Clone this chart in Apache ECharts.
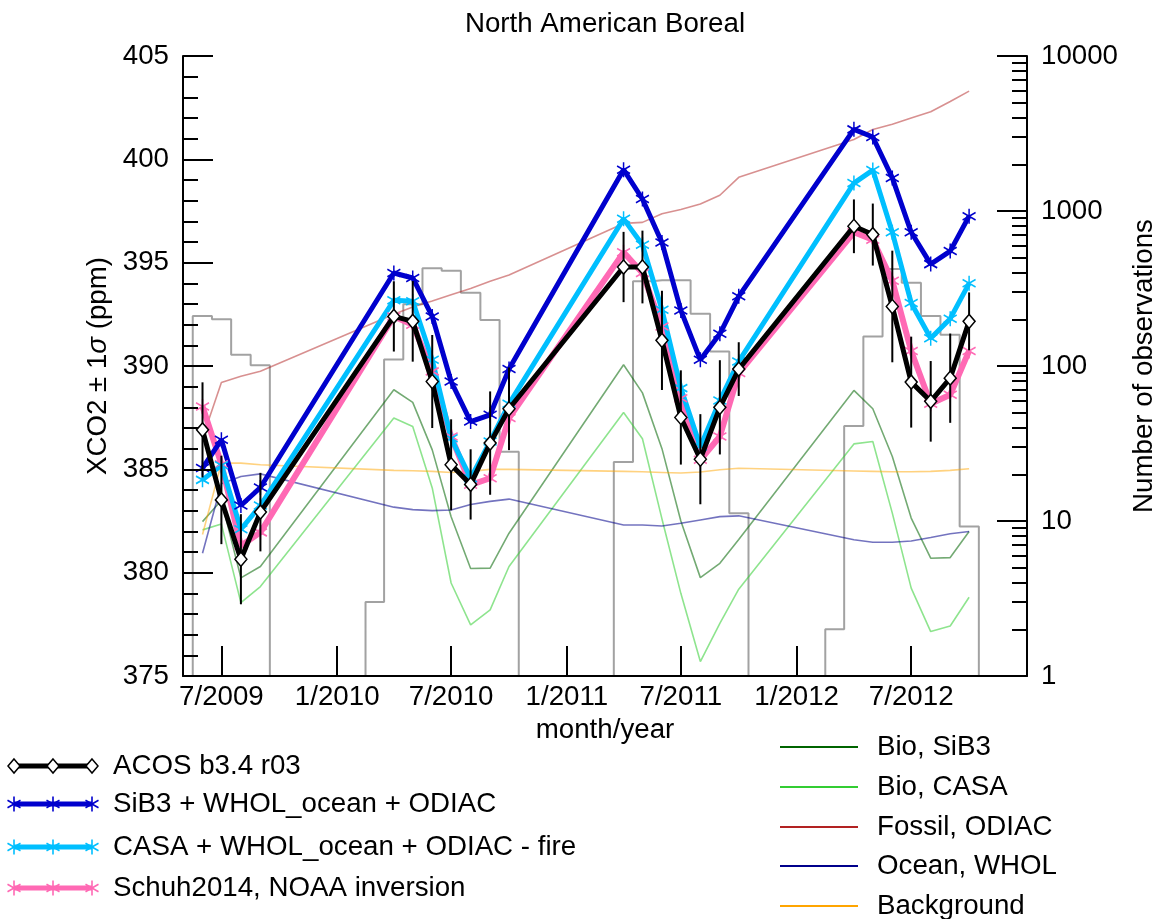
<!DOCTYPE html>
<html><head><meta charset="utf-8">
<script src="https://cdn.jsdelivr.net/npm/echarts@6/dist/echarts.min.js"></script>
<style>html,body{margin:0;padding:0;background:#fff}#c{width:1159px;height:919px}</style>
</head><body><div id="c"></div>
<script>
// ---- data ----
const months = ['2009-06','2009-07','2009-08','2009-09',
  '2010-04','2010-05','2010-06','2010-07','2010-08','2010-09','2010-10',
  '2011-04','2011-05','2011-06','2011-07','2011-08','2011-09','2011-10',
  '2012-04','2012-05','2012-06','2012-07','2012-08','2012-09','2012-10'];
const acos      = [386.91,383.52,380.65,382.93, 392.40,392.16,389.25,385.22,384.27,386.27,387.93, 394.79,394.79,391.24,387.51,385.49,388.00,389.85, 396.76,396.36,392.88,389.22,388.29,389.41,392.16];
const acosSigma = [2.3,2.14,2.18,1.9, 1.7,1.95,2.25,2.2,1.7,2.5,2.0, 1.7,1.76,2.4,2.28,2.18,2.28,1.3, 1.3,1.5,2.7,2.2,1.95,2.16,1.4];
const sib3Model = [385.06,386.43,383.25,384.12, 394.5,394.26,392.4,389.25,387.31,387.64,389.85, 399.5,398.08,395.98,392.69,390.3,391.56,393.37, 401.45,401.08,399.1,396.47,394.93,395.56,397.25];
const casaModel = [384.49,385.2,382.1,383.25, 393.18,393.13,390.3,386.5,384.57,386.35,388.17, 397.12,395.87,392.72,388.93,386.1,388.33,390.22, 398.85,399.48,396.47,393.05,391.34,392.29,394.0];
const schuh2014 = [388.04,385.25,381.3,381.95, 392.4,392.0,389.74,386.59,384.25,384.57,387.48, 395.5,394.5,391.91,388.44,385.46,386.59,389.66, 396.47,396.11,394.12,390.73,388.17,388.61,390.73];
const bioSib3   = [382.47,383.5,379.75,380.3, 388.85,388.24,385.94,382.71,380.2,380.22,381.91, 390.06,388.7,386.0,382.5,379.76,380.45,381.6, 388.82,387.93,385.62,382.64,380.7,380.73,381.99];
const bioCasa   = [382.07,382.35,378.55,379.33, 387.48,387.07,384.1,379.5,377.47,378.2,380.3, 387.75,386.48,382.6,379.0,375.7,377.55,379.2, 386.23,386.35,382.88,379.25,377.15,377.42,378.81];
const fossil    = [386.5,389.2,389.5,389.75, 392.5,392.85,393.15,393.45,393.75,394.1,394.4, 396.9,396.95,397.37,397.57,397.84,398.26,399.13, 400.96,401.44,401.7,402.0,402.3,402.8,403.3];
const ocean     = [380.94,384.3,384.65,384.78, 383.17,383.05,383.0,383.03,383.3,383.45,383.56, 382.31,382.31,382.26,382.39,382.55,382.71,382.75, 381.59,381.47,381.47,381.53,381.7,381.88,381.99];
const background= [381.85,385.3,385.3,385.22, 384.95,384.93,384.9,384.85,384.9,385.0,385.0, 384.9,384.88,384.85,384.82,384.87,384.98,385.05, 384.92,384.9,384.88,384.88,384.9,384.95,385.03];
// number of observations per month (1 = none, the bottom of the log axis)
const histMonths = ['2009-05','2009-06','2009-07','2009-08','2009-09','2009-10',
  '2010-02','2010-03','2010-04','2010-05','2010-06','2010-07','2010-08','2010-09','2010-10','2010-11',
  '2011-03','2011-04','2011-05','2011-06','2011-07','2011-08','2011-09','2011-10','2011-11',
  '2012-02','2012-03','2012-04','2012-05','2012-06','2012-07','2012-08','2012-09','2012-10','2012-11'];
const histCounts = [1,210,200,118,101,1,
  1,3,110,250,427,412,297,198,28,1,
  1,24,352,358,358,217,124,11.2,1,
  1,2,41,155,423,345,210,159,9.2,1];
const xTickMonths = ['2009-07','2010-01','2010-07','2011-01','2011-07','2012-01','2012-07'];
const chartTitle = 'North American Boreal';

// ---- helpers ----
const T = s => { const p = s.split('-').map(Number); return Date.UTC(p[0], p[1]-1, 1); };
const pairs = vals => months.map((m,i) => [T(m), vals[i]]);
const FONT = '"Liberation Sans", Arial, Helvetica, sans-serif';
const FS = 27.7;
const ASTER = 'path://M0,-1L0,1M-0.866,-0.5L0.866,0.5M-0.866,0.5L0.866,-0.5';
const logMinor = [];
[1,10,100,1000].forEach(d => { for (let k = 2; k <= 9; k++) logMinor.push(k*d); });

function modelSeries(name, vals, color, width, z) {
  return {type:'line', name, data: pairs(vals), z, symbol: ASTER, symbolSize:[13,15], showSymbol:true,
    lineStyle:{color, width}, itemStyle:{color, borderColor:color, borderWidth:1.6},
    emphasis:{disabled:true}, silent:true};
}
function compSeries(name, vals, color) {
  return {type:'line', name, data: pairs(vals), z:2, showSymbol:false, symbol:'none',
    lineStyle:{color, width:1.6}, emphasis:{disabled:true}, silent:true};
}

// ---- legend drawn with graphic elements ----
const g = [];
const lx0 = 14, lx1 = 92, ltx = 113;
function astG(cx, cy, color) {
  return [[0,-7.5,0,7.5],[-6.5,-3.75,6.5,3.75],[-6.5,3.75,6.5,-3.75]].map(a => ({type:'line',
    shape:{x1:cx+a[0],y1:cy+a[1],x2:cx+a[2],y2:cy+a[3]}, style:{stroke:color,lineWidth:1.6}}));
}
const leftLeg = [
  ['ACOS b3.4 r03', '#000000', 'diamond', 766],
  ['SiB3 + WHOL_ocean + ODIAC', '#0000CD', 'ast', 804],
  ['CASA + WHOL_ocean + ODIAC - fire', '#00BFFF', 'ast', 847],
  ['Schuh2014, NOAA inversion', '#FF69B4', 'ast', 888]];
leftLeg.forEach(([txt,col,mk,y]) => {
  g.push({type:'line', shape:{x1:lx0,y1:y,x2:lx1,y2:y}, style:{stroke:col,lineWidth:5}});
  [lx0,(lx0+lx1)/2,lx1].forEach(cx => {
    if (mk === 'diamond') g.push({type:'polygon', shape:{points:[[cx,y-7],[cx+6,y],[cx,y+7],[cx-6,y]]}, style:{fill:'#fff',stroke:'#000',lineWidth:1.5}});
    else g.push(...astG(cx,y,col));
  });
  g.push({type:'text', x:ltx, y, style:{text:txt, fill:'#000', font:`${FS}px ${FONT}`, textVerticalAlign:'middle'}});
});
const rightLeg = [
  ['Bio, SiB3', '#006400', 747], ['Bio, CASA', '#32CD32', 787], ['Fossil, ODIAC', '#B22222', 827],
  ['Ocean, WHOL', '#00008B', 866], ['Background', '#FFA500', 906]];
rightLeg.forEach(([txt,col,y]) => {
  g.push({type:'line', shape:{x1:780,y1:y,x2:858,y2:y}, style:{stroke:col,lineWidth:2}});
  g.push({type:'text', x:877, y, style:{text:txt, fill:'#000', font:`${FS}px ${FONT}`, textVerticalAlign:'middle'}});
});

const axisLineS = {show:true, onZero:false, lineStyle:{color:'#000', width:2}};
const tickS = {color:'#000', width:2};
const lblS = {color:'#000', fontSize:FS, fontFamily:FONT};

const option = {
  animation:false,
  textStyle:{fontFamily:FONT},
  title:{text:chartTitle, left:600, top:5, textAlign:'center',
    textStyle:{fontSize:FS, fontWeight:'normal', color:'#000', fontFamily:FONT}},
  grid:{left:183, right:132, top:56, bottom:243, containLabel:false, outerBoundsMode:'none'},
  xAxis:{type:'value', min:T('2009-05'), max:T('2013-01'), z:10,
    name:'month/year', nameLocation:'middle', nameGap:32, nameTextStyle:lblS,
    axisLine:axisLineS,
    axisTick:{show:true, inside:true, length:30, lineStyle:tickS, customValues:xTickMonths.map(T)},
    axisLabel:Object.assign({customValues:xTickMonths.map(T), margin:7,
      formatter:v => { const d = new Date(v); return (d.getUTCMonth()+1) + '/' + d.getUTCFullYear(); }}, lblS),
    splitLine:{show:false}},
  yAxis:[
    {type:'value', min:375, max:405, interval:5, position:'left', z:10,
      name:'{a|XCO2 ± 1}{b|σ}{a| (ppm)}', nameLocation:'middle', nameGap:70, nameRotate:90,
      nameTextStyle:{rich:{a:{fontSize:FS,fontFamily:FONT,color:'#000'}, b:{fontSize:FS,fontFamily:FONT,fontStyle:'italic',color:'#000'}}},
      axisLine:axisLineS,
      axisTick:{show:true, inside:true, length:30, lineStyle:tickS},
      minorTick:{show:true, splitNumber:5, length:15, lineStyle:tickS},
      axisLabel:Object.assign({margin:14, formatter:v => String(v)}, lblS),
      splitLine:{show:false}, minorSplitLine:{show:false}},
    {type:'log', logBase:10, min:1, max:10000, position:'right', z:10,
      name:'Number of observations', nameLocation:'middle', nameGap:103, nameRotate:90, nameTextStyle:lblS,
      axisLine:axisLineS,
      axisTick:{show:true, inside:true, length:30, lineStyle:tickS},
      axisLabel:Object.assign({margin:14, formatter:v => String(Math.round(v))}, lblS),
      splitLine:{show:false}},
    {type:'log', logBase:10, min:1, max:10000, position:'right', z:10,
      axisLine:{show:false},
      axisTick:{show:true, inside:true, length:15, lineStyle:tickS, customValues:logMinor},
      axisLabel:{show:false}, splitLine:{show:false}}
  ],
  graphic:g,
  series:[
    {type:'line', name:'obs', yAxisIndex:1, step:'middle', z:1, showSymbol:false, symbol:'none',
      data: histMonths.map((m,i) => [T(m), histCounts[i]]),
      lineStyle:{color:'rgba(100,100,100,0.6)', width:2}, emphasis:{disabled:true}, silent:true},
    compSeries('Bio, SiB3', bioSib3, 'rgba(0,100,0,0.55)'),
    compSeries('Bio, CASA', bioCasa, 'rgba(50,205,50,0.55)'),
    compSeries('Fossil, ODIAC', fossil, 'rgba(178,34,34,0.5)'),
    compSeries('Ocean, WHOL', ocean, 'rgba(0,0,139,0.55)'),
    compSeries('Background', background, 'rgba(255,165,0,0.5)'),
    modelSeries('Schuh2014, NOAA inversion', schuh2014, '#FF69B4', 6, 3),
    modelSeries('CASA + WHOL_ocean + ODIAC - fire', casaModel, '#00BFFF', 5, 3),
    modelSeries('SiB3 + WHOL_ocean + ODIAC', sib3Model, '#0000CD', 5, 3),
    {type:'custom', name:'err', z:4, silent:true,
      data: months.map((m,i) => [T(m), acos[i]-acosSigma[i], acos[i]+acosSigma[i]]),
      encode:{x:0, y:[1,2]},
      renderItem:(params, api) => {
        const a = api.coord([api.value(0), api.value(1)]);
        const b = api.coord([api.value(0), api.value(2)]);
        return {type:'line', shape:{x1:a[0],y1:a[1],x2:b[0],y2:b[1]}, style:{stroke:'#000', lineWidth:2}};
      }},
    {type:'line', name:'ACOS b3.4 r03', data: pairs(acos), z:5, symbol:'diamond', symbolSize:[12,14], showSymbol:true,
      lineStyle:{color:'#000', width:5}, itemStyle:{color:'#fff', borderColor:'#000', borderWidth:1.5},
      emphasis:{disabled:true}, silent:true}
  ]
};
const chart = echarts.init(document.getElementById('c'), null, {renderer:'canvas'});
chart.setOption(option);
</script></body></html>
